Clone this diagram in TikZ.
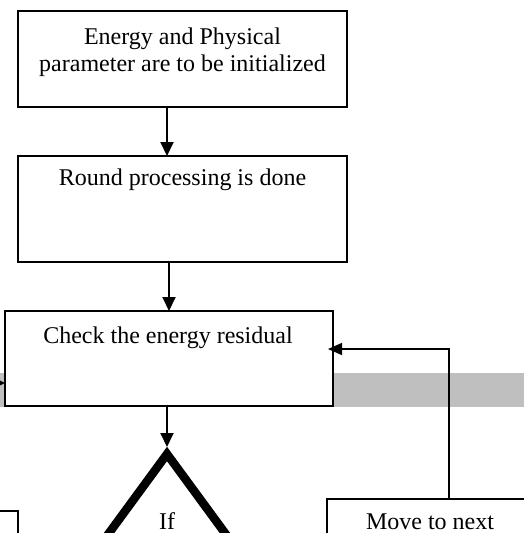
\documentclass[tikz,border=0pt]{standalone}
\usepackage{fontspec}
\setmainfont{Liberation Serif}
\usetikzlibrary{arrows.meta,shapes.geometric}
\begin{document}
\begin{tikzpicture}[x=1pt,y=-1pt,
  box/.style={draw, line width=1.7pt, fill=white, inner sep=0pt, outer sep=0pt},
  txt/.style={inner sep=0pt, outer sep=0pt, font=\fontsize{24}{27}\selectfont},
  decision/.style={draw, diamond, line width=8.5pt, inner sep=0pt, outer sep=0pt,
    minimum width=220pt, minimum height=300pt},
  arr/.style={line width=1.9pt, -{Triangle[length=14pt,width=13pt]}},
  arrthin/.style={line width=1.3pt, -{Triangle[length=14pt,width=12pt]}}
]
\useasboundingbox (0,0) rectangle (524,533);
\clip (0,0) rectangle (524,533);
% grey band behind the third box
\fill[black!25] (0,373) rectangle (524,407);
% boxes
\node[box, minimum width=329pt, minimum height=96pt] (box1) at (182.5,59) {};
\node[box, minimum width=329pt, minimum height=106pt] (box2) at (182.5,209) {};
\node[box, minimum width=328pt, minimum height=95pt] (box3) at (169,358.5) {};
\node[box, minimum width=120pt, minimum height=120pt] (lbox) at (-42,571) {};
\node[box, minimum width=206pt, minimum height=121pt] (move) at (430,559.5) {};
\node[decision] (dec) at (167,604) {};
% texts
\node[txt, align=center, anchor=north] (t1) at (182.5,28) {Energy and Physical\\parameter are to be initialized};
\node[txt, anchor=base] (t2) at (182.5,185) {Round processing is done};
\node[txt, anchor=base] (t3) at (168,343) {Check the energy residual};
\node[txt, anchor=base] (tif) at (167,529) {If};
\node[txt, anchor=base] (tmove) at (430,529) {Move to next};
% connectors
\coordinate (c1) at (167,0);
\coordinate (c2) at (169,0);
\coordinate (lin) at (-30,383);
\coordinate (fb) at (449,349);
\draw[arr] (box1.south -| c1) -- (box2.north -| c1);
\draw[arr] (box2.south -| c2) -- (box3.north -| c2);
\draw[arr] (box3.south -| dec.north) -- ([yshift=7pt]dec.north);
\draw[arr] (lin) -- (box3.west |- lin);
\draw[arrthin, shorten >=-5pt] (move.north -| fb) |- (box3.east |- fb);
\end{tikzpicture}
\end{document}
